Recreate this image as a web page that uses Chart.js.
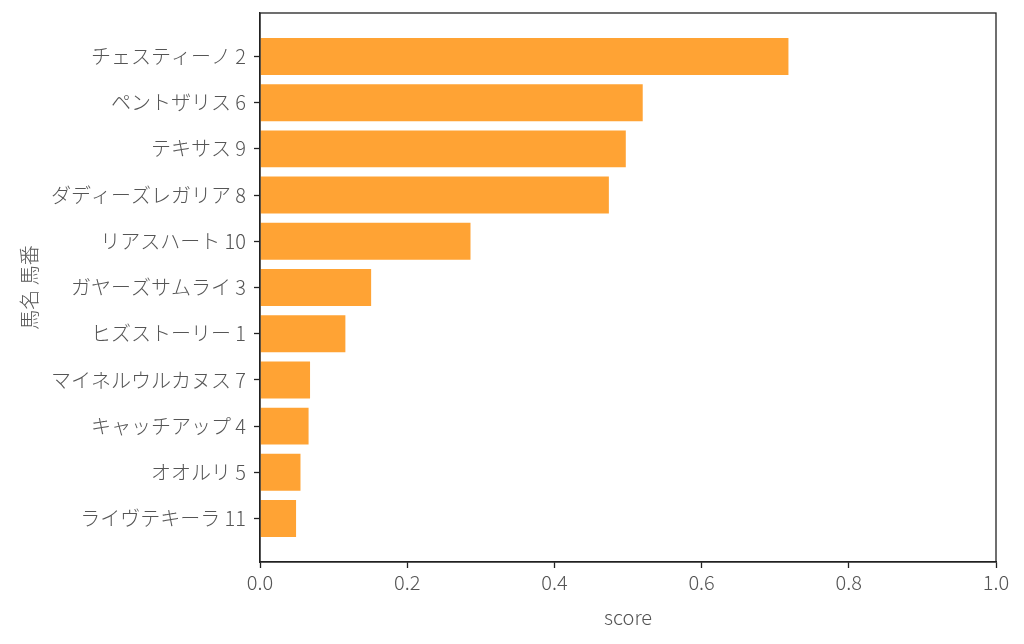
<!DOCTYPE html>
<html>
<head>
<meta charset="utf-8">
<script src="https://cdn.jsdelivr.net/npm/chart.js@4"></script>
<style>
  html, body { margin: 0; padding: 0; background: #fff; }
  #wrap { width: 1024px; height: 644px; }
</style>
</head>
<body>
<div id="wrap"><canvas id="scoreChart"></canvas></div>
<script>
// horse names + numbers, top to bottom
const horseLabels = [
  "チェスティーノ 2", "ペントザリス 6", "テキサス 9", "ダディーズレガリア 8",
  "リアスハート 10", "ガヤーズサムライ 3", "ヒズストーリー 1", "マイネルウルカヌス 7",
  "キャッチアップ 4", "オオルリ 5", "ライヴテキーラ 11"
];
const scores = [0.718, 0.520, 0.497, 0.474, 0.286, 0.151, 0.116, 0.068, 0.066, 0.055, 0.049];
const xTicks = [0, 0.2, 0.4, 0.6, 0.8, 1.0];

const FONT = "'Noto Sans CJK JP', 'Noto Sans', sans-serif";
const TEXT = "#555555";

// full frame round the plot area
const frame = {
  id: "frame",
  afterDraw(chart) {
    const a = chart.chartArea, ctx = chart.ctx;
    ctx.save();
    ctx.strokeStyle = "#222";
    ctx.lineWidth = 1.3;
    ctx.strokeRect(a.left, a.top, a.right - a.left, a.bottom - a.top);
    ctx.restore();
  }
};

new Chart(document.getElementById("scoreChart"), {
  type: "bar",
  data: {
    datasets: [{
      data: scores.map((s, i) => ({ x: s, y: i })),
      backgroundColor: "#ffa334",
      borderWidth: 0,
      categoryPercentage: 1,
      barPercentage: 0.8
    }]
  },
  options: {
    indexAxis: "y",
    responsive: true,
    maintainAspectRatio: false,
    animation: false,
    layout: { padding: { top: 13, right: 28, left: 0, bottom: 0 } },
    plugins: { legend: { display: false }, tooltip: { enabled: false } },
    scales: {
      x: {
        type: "linear",
        min: 0,
        max: 1,
        afterBuildTicks: s => { s.ticks = xTicks.map(v => ({ value: v })); },
        afterFit: s => { s.height = 644 - 562; s.paddingLeft = 0; s.paddingRight = 0; },
        ticks: {
          callback: v => v.toFixed(1),
          color: TEXT,
          font: { family: FONT, size: 20, weight: 300 },
          padding: 2
        },
        grid: { drawOnChartArea: false, drawTicks: true, tickLength: 6, color: "#222", tickWidth: 1.3 },
        border: { display: true, color: "#222", width: 1.3 },
        title: {
          display: true,
          text: "score",
          color: TEXT,
          font: { family: FONT, size: 20, weight: 300 },
          padding: { top: 0, bottom: 15 }
        }
      },
      y: {
        type: "linear",
        reverse: true,
        offset: false,
        min: -0.94,
        max: 10.94,
        afterBuildTicks: s => { s.ticks = horseLabels.map((_, i) => ({ value: i })); },
        afterFit: s => { s.width = 260; s.paddingTop = 0; s.paddingBottom = 0; },
        ticks: {
          callback: v => horseLabels[v],
          color: TEXT,
          font: { family: FONT, size: 20, weight: 300 },
          padding: 8
        },
        grid: { offset: false, drawOnChartArea: false, drawTicks: true, tickLength: 6, color: "#222", tickWidth: 1.3 },
        border: { display: true, color: "#222", width: 1.3 },
        title: {
          display: true,
          text: "馬名 馬番",
          color: TEXT,
          font: { family: FONT, size: 20, weight: 300 },
          padding: { top: 17, bottom: 0 }
        }
      }
    }
  },
  plugins: [frame]
});
</script>
</body>
</html>
